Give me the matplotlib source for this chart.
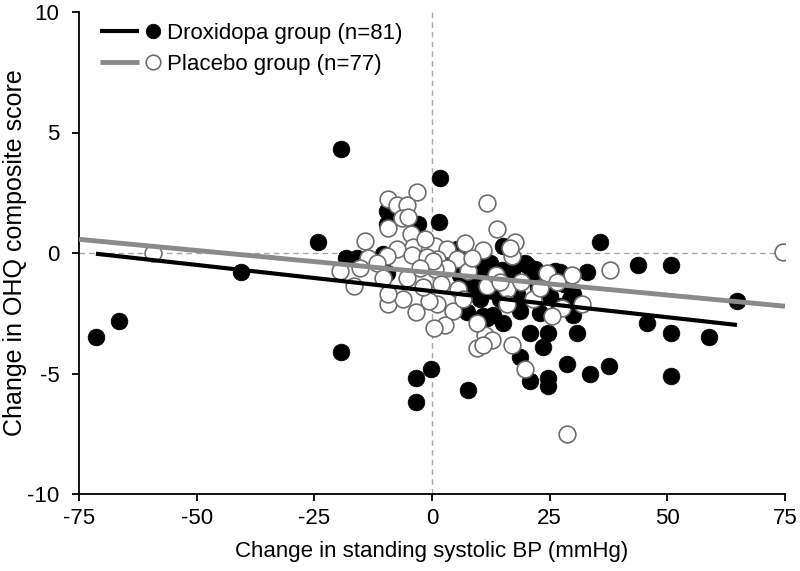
import matplotlib
matplotlib.use("Agg")
import matplotlib.pyplot as plt
from matplotlib.lines import Line2D
from matplotlib.legend_handler import HandlerBase
import numpy as np

plt.rcParams['font.family'] = ['Liberation Sans', 'DejaVu Sans']

# ---- data ----
drox_x = [-71.4, -66.5, -40.6, -24.2, -19.3, -19.3, -18.3, -15.9, -10.4, -9.6,
          -9.6, -9.6, -3.0, -3.4, -3.4, -0.3, 1.7, 1.5, 5.3, 7.6,
          15.0, 9.6, 12.3, 14.9, 17.2, 20.2, 21.9, 26.1, 32.9, 27.2,
          35.7, 43.8, 50.8, 64.8, 45.7, 50.8, 58.8, 50.8, 28.7, 33.6,
          37.6, 30.8, 29.9, 30.0, 8.1, 8.5, 7.4, 10.8, 13.0, 15.0,
          18.7, 20.8, 24.6, 23.6, 18.7, 20.8, 24.6, 24.6, 10.2, 14.4,
          18.0, 29.3, 11.7, 14.4, 10.2, 19.8, 22.5, 25.0, 17.0, 12.0,
          27.0, 6.0, 9.0, 11.0, 16.0, 21.0, 28.0, 4.0, 19.0, 13.0, 23.0]
drox_y = [-3.5, -2.84, -0.8, 0.44, 4.33, -4.1, -0.2, -0.22, -0.05, -0.85,
          1.75, 1.2, 1.2, -5.2, -6.2, -4.8, 3.1, 1.3, 0.18, -5.7,
          0.28, -0.45, -0.43, -0.7, -0.63, -0.5, -0.65, -0.76, -0.8, -0.8,
          0.44, -0.51, -0.51, -2.0, -2.9, -3.33, -3.5, -5.1, -4.6, -5.0,
          -4.7, -3.3, -2.56, -1.7, -1.05, -1.45, -2.45, -2.6, -2.57, -2.9,
          -2.4, -3.3, -3.3, -3.9, -4.3, -5.3, -5.5, -5.2, -1.9, -1.9,
          -1.7, -1.9, -2.7, -0.76, -0.35, -0.43, -1.4, -1.8, -1.2, -1.3,
          -2.2, -0.9, -0.6, -0.9, -0.9, -1.0, -1.3, -0.3, -2.0, -1.5, -2.5]

plac_x = [-59.3, 74.5, 37.8, 29.7, 31.9, 27.6, 11.7, 13.8, 17.6, 10.8,
          17.0, 0.6, 3.2, 1.1, 5.3, 3.2, 0.6, 7.6, 24.4, 11.7,
          5.5, 15.9, 21.5, 22.9, 15.9, 1.1, -0.6, 4.5, 2.8, 0.4,
          11.2, 9.6, 12.7, 17.0, 10.8, 19.8, 28.7, -3.2, -9.4, -7.5,
          -5.3, -6.4, -5.1, -9.4, -4.5, -14.2, -4.0, -7.5, -9.6, -13.6,
          -4.2, -1.0, 0.2, -2.5, -19.5, -15.3, -16.6, -11.7, -5.3, -9.4,
          -6.2, -3.4, -9.4, 8.5, 6.5, 19.0, 13.5, 25.5, 2.0, -2.0,
          7.0, -10.5, -1.5, 9.5, 14.5, 16.5, 26.5]
plac_y = [0.0, 0.05, -0.7, -0.9, -2.1, -2.3, 2.06, 0.98, 0.44, 0.11,
          -0.14, 0.28, 0.15, -0.26, -0.26, -0.63, -0.67, -0.76, -0.84, -1.38,
          -1.5, -1.5, -1.9, -1.46, -2.1, -2.1, -2.0, -2.4, -3.0, -3.1,
          -3.4, -3.95, -3.6, -3.8, -3.8, -4.8, -7.5, 2.55, 2.25, 2.0,
          2.0, 1.45, 1.5, 1.05, 0.8, 0.48, 0.25, 0.15, -0.14, -0.22,
          -0.1, -0.18, -0.35, -0.63, -0.76, -0.63, -1.38, -0.43, -1.05, -2.1,
          -1.9, -2.45, -1.7, -0.2, -1.9, -1.2, -0.9, -2.6, -1.3, -1.4,
          0.4, -1.05, 0.6, -2.9, -1.2, 0.2, -1.2]

# regression fits (slope, intercept)
drox_fit = (-0.0217, -1.58)
plac_fit = (-0.0185, -0.82)
plac_fit_range = (-75, 75)

drox_label = "Droxidopa group (n=81)"
plac_label = "Placebo group (n=77)"
x_ticks = [-75, -50, -25, 0, 25, 50, 75]
y_ticks = [-10, -5, 0, 5, 10]

# ---- figure ----
fig = plt.figure(figsize=(8, 5.71), dpi=100)
ax = fig.add_axes([79/800, 77/571, 706/800, 482/571])

GRAY_LINE = '#8a8a8a'
EDGE = '#6e6e6e'
MS = 145
FS = 16

ax.axhline(0, color='#a8a8a8', ls=(0, (4, 3)), lw=1.0, zorder=1)
ax.axvline(0, color='#a8a8a8', ls=(0, (4, 3)), lw=1.0, zorder=1)

ax.scatter(drox_x, drox_y, s=MS, c='black', edgecolors='black', linewidths=0.5, zorder=3)
ax.scatter(plac_x, plac_y, s=MS, facecolors='white', edgecolors=EDGE, linewidths=1.2, zorder=4)

xd = np.array([min(drox_x), max(drox_x)])
ax.plot(xd, drox_fit[0]*xd + drox_fit[1], color='black', lw=3.0, zorder=5, solid_capstyle='butt')
xp = np.array(plac_fit_range)
ax.plot(xp, plac_fit[0]*xp + plac_fit[1], color=GRAY_LINE, lw=3.5, zorder=5, solid_capstyle='butt')

ax.set_xlim(-75, 75)
ax.set_ylim(-10, 10)
ax.set_xticks(x_ticks)
ax.set_yticks(y_ticks)
ax.set_xticklabels([str(v) for v in x_ticks])
ax.set_yticklabels([str(v) for v in y_ticks])
for s in ['top', 'right']:
    ax.spines[s].set_visible(False)
for s in ['left', 'bottom']:
    ax.spines[s].set_linewidth(1.3)
ax.tick_params(direction='out', length=5, width=1.3, labelsize=FS)
ax.tick_params(axis='x', pad=5)
ax.tick_params(axis='y', pad=9)
ax.set_xlabel("Change in standing systolic BP (mmHg)", fontsize=FS, labelpad=9)
ax.set_ylabel("Change in OHQ composite score", fontsize=18)
ax.yaxis.set_label_coords(-0.074, 0.5)


class LineThenMarker(HandlerBase):
    def create_artists(self, legend, orig_handle, xdescent, ydescent, width, height, fontsize, trans):
        yc = height / 2 - ydescent
        ln = Line2D([-xdescent, -xdescent + width * 0.64], [yc, yc],
                    color=orig_handle.get_color(), lw=orig_handle.get_linewidth(),
                    solid_capstyle='butt', transform=trans)
        mk = Line2D([-xdescent + width * 0.86], [yc], ls='none', marker='o',
                    markersize=orig_handle.get_markersize(),
                    markerfacecolor=orig_handle.get_markerfacecolor(),
                    markeredgecolor=orig_handle.get_markeredgecolor(),
                    markeredgewidth=orig_handle.get_markeredgewidth(), transform=trans)
        return [ln, mk]


h1 = Line2D([], [], color='black', lw=3.0, marker='o', markersize=10.5,
            markerfacecolor='black', markeredgecolor='black', markeredgewidth=0.5)
h2 = Line2D([], [], color=GRAY_LINE, lw=3.5, marker='o', markersize=10.5,
            markerfacecolor='white', markeredgecolor=EDGE, markeredgewidth=1.2)
ax.legend([h1, h2], [drox_label, plac_label], loc='upper left',
          bbox_to_anchor=(0.03, 0.978), frameon=False, fontsize=FS,
          handlelength=2.75, handletextpad=0.25, labelspacing=0.45,
          borderpad=0, borderaxespad=0,
          handler_map={Line2D: LineThenMarker()})

fig.savefig("out.png", dpi=100)
